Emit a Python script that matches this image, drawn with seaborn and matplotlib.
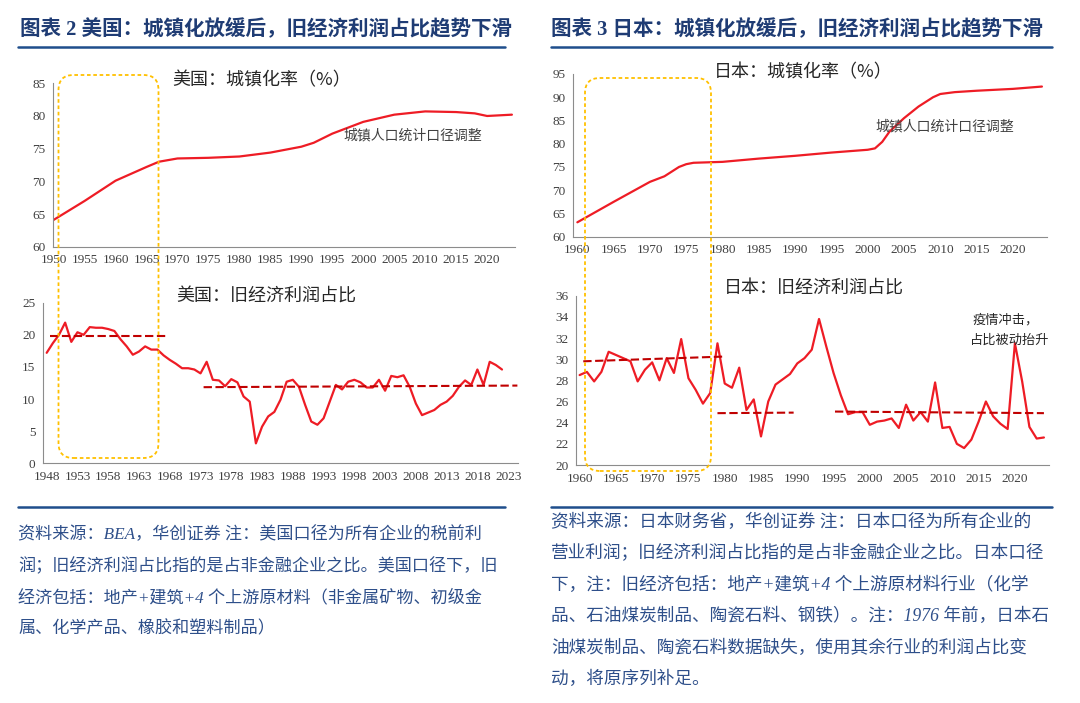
import matplotlib
matplotlib.use("Agg")
import matplotlib.pyplot as plt
import seaborn as sns
import pandas as pd
from matplotlib.patches import FancyBboxPatch
from matplotlib.lines import Line2D
from matplotlib.transforms import IdentityTransform

# ---------------- data ----------------
us_urban_years = [1950, 1955, 1960, 1965, 1967, 1970, 1975, 1980, 1985, 1990, 1992,
                  1995, 2000, 2005, 2010, 2015, 2018, 2020, 2022, 2024]
us_urban = [64.1, 67.0, 70.1, 72.2, 73.0, 73.5, 73.6, 73.8, 74.4, 75.3, 75.9,
            77.3, 79.1, 80.2, 80.7, 80.6, 80.4, 80.0, 80.1, 80.2]

us_profit_years = list(range(1948, 2023))
us_profit = [17.2, 18.7, 20.0, 21.9, 18.9, 20.4, 20.0, 21.2, 21.1, 21.1,
             20.9, 20.6, 19.3, 18.2, 16.9, 17.4, 18.2, 17.7, 17.7, 16.8,
             16.1, 15.5, 14.8, 14.8, 14.6, 14.0, 15.8, 13.0, 12.9, 12.0,
             13.1, 12.6, 10.4, 9.6, 3.1, 5.7, 7.3, 8.0, 9.9, 12.7,
             13.0, 11.9, 9.1, 6.5, 6.0, 7.0, 9.6, 12.2, 11.5, 12.7,
             13.0, 12.6, 11.8, 11.8, 13.0, 11.3, 13.6, 13.4, 13.7, 11.9,
             9.3, 7.5, 7.9, 8.3, 9.1, 9.6, 10.5, 11.9, 12.9, 12.2,
             14.6, 12.2, 15.8, 15.3, 14.6]
us_avg1_x = [1948.5, 1967.5]
us_avg1_y = [19.8, 19.8]
us_avg2_x = [1973.5, 2024.5]
us_avg2_y = [11.85, 12.1]

jp_urban_years = [1960, 1965, 1970, 1972, 1974, 1975, 1976, 1980, 1985, 1990, 1995,
                  2000, 2001, 2002, 2003, 2005, 2007, 2009, 2010, 2012, 2015, 2020, 2024]
jp_urban = [63.1, 67.5, 71.8, 73.0, 75.0, 75.6, 75.9, 76.1, 76.8, 77.4, 78.1,
            78.7, 79.0, 80.4, 82.6, 85.5, 88.0, 90.0, 90.7, 91.1, 91.4, 91.8, 92.3]

jp_profit_years = list(range(1960, 2025))
jp_profit = [28.5, 28.8, 27.9, 28.8, 30.7, 30.4, 30.1, 29.8, 27.9, 29.0,
             29.7, 28.0, 30.1, 28.7, 31.9, 28.2, 27.1, 25.8, 26.8, 31.5,
             27.7, 27.3, 29.2, 25.2, 26.2, 22.7, 26.0, 27.6, 28.1, 28.6,
             29.6, 30.1, 30.9, 33.8, 31.2, 28.7, 26.6, 24.8, 25.0, 25.0,
             23.8, 24.1, 24.2, 24.4, 23.5, 25.7, 24.2, 25.0, 24.1, 27.8,
             23.5, 23.6, 22.0, 21.6, 22.4, 24.1, 26.0, 24.6, 23.9, 23.4,
             31.5, 27.9, 23.6, 22.5, 22.6]
jp_avg1_x = [1960.5, 1980.0]
jp_avg1_y = [29.8, 30.25]
jp_avg2_x = [1979.0, 1989.5]
jp_avg2_y = [24.9, 24.95]
jp_avg3_x = [1995.2, 2024.0]
jp_avg3_y = [25.05, 24.9]

title_left = "图表 2 美国：城镇化放缓后，旧经济利润占比趋势下滑"
title_right = "图表 3 日本：城镇化放缓后，旧经济利润占比趋势下滑"
sub_titles = ["美国：城镇化率（%）", "美国：旧经济利润占比", "日本：城镇化率（%）", "日本：旧经济利润占比"]
note_adjust = "城镇人口统计口径调整"
note_covid = ["疫情冲击，", "占比被动抬升"]
foot_left = ["资料来源：BEA，华创证券 注：美国口径为所有企业的税前利",
             "润；旧经济利润占比指的是占非金融企业之比。美国口径下，旧",
             "经济包括：地产+建筑+4 个上游原材料（非金属矿物、初级金",
             "属、化学产品、橡胶和塑料制品）"]
foot_right = ["资料来源：日本财务省，华创证券 注：日本口径为所有企业的",
              "营业利润；旧经济利润占比指的是占非金融企业之比。日本口径",
              "下，注：旧经济包括：地产+建筑+4 个上游原材料行业（化学",
              "品、石油煤炭制品、陶瓷石料、钢铁）。注：1976 年前，日本石",
              "油煤炭制品、陶瓷石料数据缺失，使用其余行业的利润占比变",
              "动，将原序列补足。"]

# ---------------- style ----------------
sns.set_theme(style="white")
plt.rcParams["font.family"] = ["Liberation Serif", "Noto Sans CJK SC", "DejaVu Sans"]
CJK = ["Noto Sans CJK SC", "DejaVu Sans"]
MIX = ["Liberation Serif", "Noto Sans CJK SC"]

W, H = 1080, 703
fig = plt.figure(figsize=(W / 100, H / 100), dpi=100)
fig.patch.set_facecolor("white")

RED = "#EE1C25"
DRED = "#C00000"
BLUE = "#1F3C74"
FOOT = "#2E4F8A"
AXC = "#8C8C8C"


def rect(x0, x1, yt, yb):
    return [x0 / W, 1 - yb / H, (x1 - x0) / W, (yb - yt) / H]


def fx(x):
    return x / W


def fy(y):
    return 1 - y / H


def style(ax, xlim, xticks, ylim, yticks):
    ax.set_xlim(xlim)
    ax.set_ylim(ylim)
    ax.set_xticks(xticks)
    ax.set_yticks(yticks)
    for s in ["top", "right"]:
        ax.spines[s].set_visible(False)
    for s in ["left", "bottom"]:
        ax.spines[s].set_color(AXC)
        ax.spines[s].set_linewidth(0.8)
    ax.tick_params(axis="both", direction="out", length=3, width=0.8, color=AXC,
                   labelsize=9.5, labelcolor="#404040", pad=2.5)
    ax.set_xlabel("")
    ax.set_ylabel("")
    ax.grid(False)
    ax.patch.set_alpha(0)
    for lab in ax.get_xticklabels() + ax.get_yticklabels():
        lab.set_fontfamily("Liberation Serif")


dash = (0, (4, 1.7))

# US urbanization
ax1 = fig.add_axes(rect(53, 515, 83.3, 246.7))
sns.lineplot(x=us_urban_years, y=us_urban, ax=ax1, color=RED, linewidth=1.6)
style(ax1, (1949.9, 2024.5), list(range(1950, 2021, 5)), (60, 85), list(range(60, 86, 5)))

# US profit share
ax2 = fig.add_axes(rect(43, 518, 302.7, 463.3))
sns.lineplot(x=us_profit_years, y=us_profit, ax=ax2, color=RED, linewidth=1.6)
ax2.plot(us_avg1_x, us_avg1_y, color=DRED, lw=1.5, linestyle=dash)
ax2.plot(us_avg2_x, us_avg2_y, color=DRED, lw=1.5, linestyle=dash)
style(ax2, (1947.4, 2024.6), list(range(1948, 2024, 5)), (0, 25), list(range(0, 26, 5)))

# Japan urbanization
ax3 = fig.add_axes(rect(573, 1047, 74, 236.7))
sns.lineplot(x=jp_urban_years, y=jp_urban, ax=ax3, color=RED, linewidth=1.6)
style(ax3, (1959.4, 2024.7), list(range(1960, 2021, 5)), (60, 95), list(range(60, 96, 5)))

# Japan profit share
ax4 = fig.add_axes(rect(576, 1049, 295.7, 465))
sns.lineplot(x=jp_profit_years, y=jp_profit, ax=ax4, color=RED, linewidth=1.6)
for xs, ys in [(jp_avg1_x, jp_avg1_y), (jp_avg2_x, jp_avg2_y), (jp_avg3_x, jp_avg3_y)]:
    ax4.plot(xs, ys, color=DRED, lw=1.5, linestyle=dash)
style(ax4, (1959.5, 2024.7), list(range(1960, 2021, 5)), (20, 36), list(range(20, 37, 2)))

# ---------------- headers / rules ----------------
fig.text(fx(20), fy(30), title_left, fontsize=14.8, fontweight="bold", color=BLUE,
         family=MIX, ha="left", va="center")
fig.text(fx(551), fy(30), title_right, fontsize=14.8, fontweight="bold", color=BLUE,
         family=MIX, ha="left", va="center")
for x0, x1, y in [(18, 505, 47), (551, 1052, 47), (18, 505, 507), (551, 1052, 507)]:
    fig.add_artist(Line2D([fx(x0), fx(x1)], [fy(y), fy(y)], color="#1F4E8C", lw=1.8))

# subplot titles
for (cx, cy), t in zip([(262, 80), (266, 297), (803, 72), (814, 289)], sub_titles):
    fig.text(fx(cx), fy(cy), t, fontsize=13, color="#262626", family=CJK,
             ha="center", va="center")

# annotations
fig.text(fx(413), fy(135), note_adjust, fontsize=10, color="#404040", family=CJK,
         ha="center", va="center")
fig.text(fx(945), fy(126), note_adjust, fontsize=10, color="#404040", family=CJK,
         ha="center", va="center")
fig.text(fx(1006), fy(320), note_covid[0], fontsize=9.5, color="#262626", family=CJK,
         ha="center", va="center")
fig.text(fx(1010), fy(340), note_covid[1], fontsize=9.5, color="#262626", family=CJK,
         ha="center", va="center")

# yellow highlight boxes (pixel coordinates)
for x0, y0, x1, y1 in [(58.5, 75, 158.5, 458), (585, 78, 711, 471)]:
    box = FancyBboxPatch((x0, H - y1), x1 - x0, y1 - y0,
                         boxstyle="round,pad=0,rounding_size=15",
                         transform=IdentityTransform(), fill=False,
                         edgecolor="#FFC000", linewidth=1.3, linestyle=(0, (2, 1.5)))
    fig.add_artist(box)

# footnotes
for i, t in enumerate(foot_left):
    fig.text(fx(18), fy(535 + i * 31.4), t, fontsize=12.3, color=FOOT, family=MIX,
             style="italic", ha="left", va="center")
for i, t in enumerate(foot_right):
    fig.text(fx(551), fy(522 + i * 31.5), t, fontsize=12.7, color=FOOT, family=MIX,
             style="italic", ha="left", va="center")

fig.savefig("out.png", dpi=100, facecolor="white")
